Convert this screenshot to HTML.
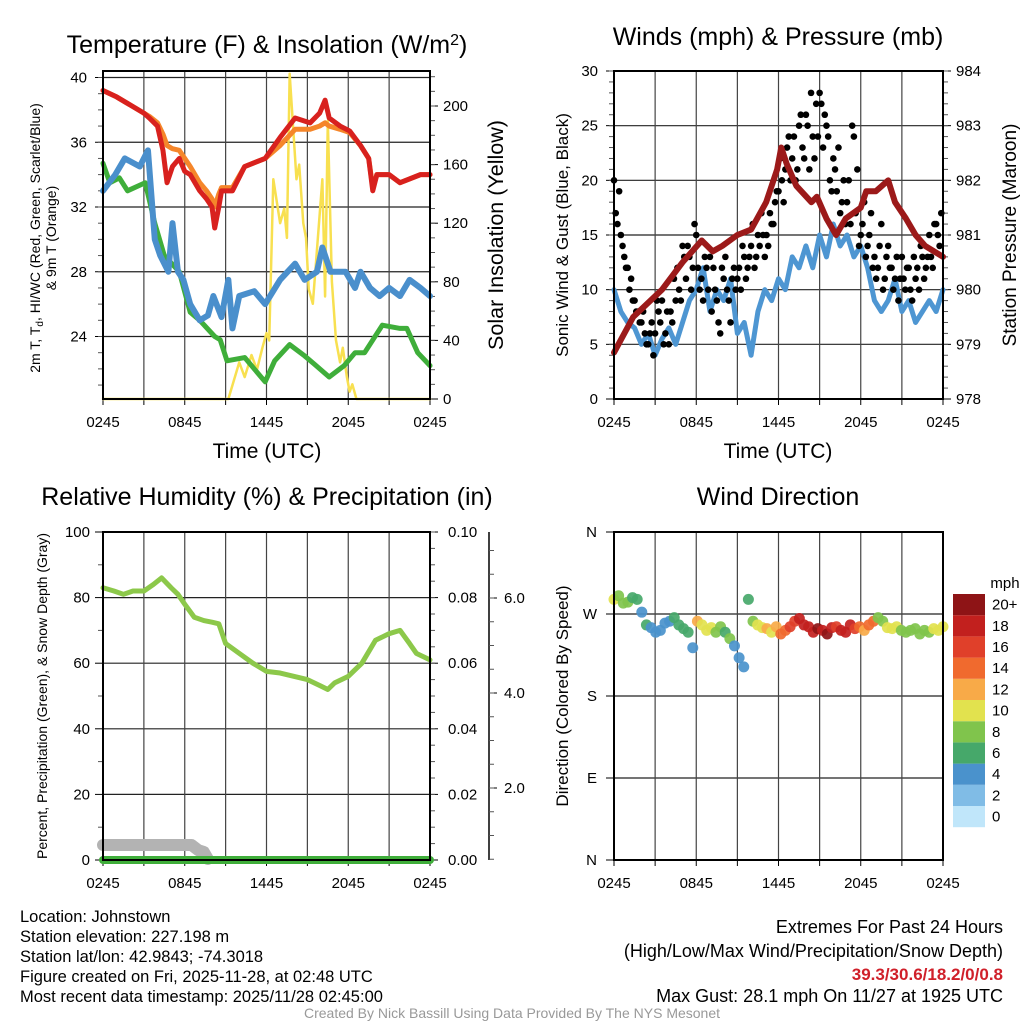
<!DOCTYPE html>
<html><head><meta charset="utf-8">
<style>
html,body{margin:0;padding:0;background:#fff;}
svg{display:block;font-family:"Liberation Sans",sans-serif;}
</style></head>
<body>
<svg id="chart" width="1024" height="1024" viewBox="0 0 1024 1024" xmlns="http://www.w3.org/2000/svg">
<rect width="1024" height="1024" fill="#fff"/>
<g id="p1"></g>
<g id="p2"></g>
<g id="p3"></g>
<g id="p4"></g>
<g font-size="16.5" fill="#000">
<text x="20" y="922">Location: Johnstown</text>
<text x="20" y="942">Station elevation: 227.198 m</text>
<text x="20" y="962">Station lat/lon: 42.9843; -74.3018</text>
<text x="20" y="982">Figure created on Fri, 2025-11-28, at 02:48 UTC</text>
<text x="20" y="1002">Most recent data timestamp: 2025/11/28 02:45:00</text>
</g>
<g font-size="18" text-anchor="end">
<text x="1003" y="933">Extremes For Past 24 Hours</text>
<text x="1003" y="957">(High/Low/Max Wind/Precipitation/Snow Depth)</text>
<text x="1003" y="980" fill="#d0202a" font-weight="bold" font-size="17">39.3/30.6/18.2/0/0.8</text>
<text x="1003" y="1002">Max Gust: 28.1 mph On 11/27 at 1925 UTC</text>
</g>
<text x="512" y="1018" text-anchor="middle" font-size="14" fill="#999">Created By Nick Bassill Using Data Provided By The NYS Mesonet</text>
</svg>
<script>
// ---- Temperature panel data ----
const tT=[0,1,2,3,3.4,4,4.4,4.7,5.1,5.6,6,6.4,7.1,7.6,8,8.2,8.5,8.7,9.5,10.4,11.9,13,14.1,15.2,15.9,16.3,16.6,17.4,18.1,18.9,19.5,19.8,20.1,21,21.8,23.3,24];
const tempRed=[39.2,38.8,38.3,37.8,37.5,37,35.5,33.5,34.5,35,34.2,34,33,32.5,32,30.7,32,33,33,34.5,35,36.3,37.5,37.2,37.8,38.6,37.5,37,36.7,35.8,35,33,34,34,33.5,34,34];
const temp9mOrange=[39.2,38.8,38.3,37.8,37.6,37.2,36.5,35.8,35.6,35.5,35,34.5,33.5,33,32.5,32,32.8,33.2,33.2,34.5,35,35.8,36.8,36.8,37,37.2,37,36.8,36.6,35.8,35,33.2,34,34,33.5,34,34];
const tD=[0,0.9,1.6,2.7,3.3,3.8,4.2,4.8,5.1,5.5,5.9,6.4,7.1,7.7,8.1,8.7,9.2,9.5,10,11.1,11.9,13,14.1,14.8,15.7,16.1,16.7,17.8,18.5,18.9,19.6,20.3,21,21.8,22.5,23.3,24];
const dewBlue=[33,34,35,34.5,35.5,30,29,28,31,28,27.5,26,25,25.3,26.5,25.2,27.5,24.5,26.5,26.8,26,27.5,28.5,27.5,28,29.5,28,28,27,28,27,26.5,27,26.5,27.5,27,26.5];
const tG=[0,0.5,1.2,1.8,3.1,3.8,4.5,5.6,6.4,7.1,8.2,8.6,9.1,10.4,11.9,12.6,13.7,14.8,15.5,16.6,17.7,18.5,19.2,20.5,21.8,22.3,23.1,24];
const hiwcGreen=[34.7,33.5,33.8,33,33.5,31,29,28,25.5,25,24,23.8,22.5,22.7,21.2,22.5,23.5,22.8,22.3,21.5,22.2,23,23,24.7,24.5,24.5,23,22.2];
const tS=[0,9.2,10,10.4,10.9,11.3,11.7,12,12.2,12.5,13,13.3,13.5,13.7,14.2,14.4,14.7,14.9,15.1,15.4,16.1,16.3,16.5,16.8,17.1,17.4,17.6,17.9,18.1,18.3,18.6,24];
const solar=[0,0,25,15,30,20,35,45,40,150,120,130,110,222,150,160,120,110,75,65,150,70,190,80,40,25,35,15,5,10,0,0];
// ---- Wind panel data ----
const tW=[0,0.5,1,1.5,2,2.5,3,3.5,4,4.5,5,5.5,6,6.5,7,7.5,8,8.5,9,9.5,10,10.5,11,11.5,12,12.5,13,13.5,14,14.5,15,15.5,16,16.5,17,17.5,18,18.5,19,19.5,20,20.5,21,21.5,22,22.5,23,23.5,24];
const windSpeed=[10,8,7,6.5,5,6,4,5.5,6.5,5,7,9,10,12,8,10,9,11,6,7,4,8,10,9,11,10,13,12,14,12,15,13,16,14,15,13,14,12,9,8,9,11,8,9,7,8,9,8,10];
const gusts=[20,16,15,13,12,11,9,8,7,6,5,7,6,8,9,6,5,7,9,10,14,11,13,12,15,10,9,12,13,12,9,6,11,10,7,12,11,10,13,12,14,12,15,17,13,14,16,18,19,20,21,24,22,20,25,23,26,21,24,27,28,23,25,20,22,19,17,20,18,16,24,21,15,18,14,17,13,12,16,11,14,12,11,9,13,10,12,9,11,10,13,12,15,12,16,14];
const gustsB=[17,19,14,12,10,9,8,7,8,5,6,4,9,7,5,8,8,11,12,9,13,14,10,16,12,11,13,10,8,10,7,12,13,9,11,10,12,14,11,13,16,13,14,15,15,17,16,19,22,18,23,20,24,21,26,22,25,28,22,24,27,26,24,19,21,23,18,16,20,25,17,14,16,13,15,12,11,14,10,13,12,10,13,11,11,12,10,13,12,14,11,13,13,16,15,17];
const tP=[0,1.4,3.5,5,6.4,7.2,7.9,9,10,11.1,11.9,12.2,12.6,13.3,14.4,14.8,15.5,16.2,16.9,18,18.4,19.1,20,20.5,21.3,22,22.7,24];
const pressure=[978.85,979.5,980.0,980.5,980.9,980.7,980.8,981,981.1,981.6,982.2,982.6,982.3,981.9,981.6,981.7,981.3,981.0,981.3,981.5,981.8,981.8,982.0,981.6,981.3,981.0,980.8,980.6];
// ---- RH panel data ----
const tR=[0,0.8,1.5,2.2,3,3.7,4.3,5,5.5,6,6.7,7.4,8,8.5,9,10,11,12,13,14,15,16,16.5,17,18,19,20,21,21.8,22.5,23,24];
const rh=[83,82,81,82,82,84,86,83,81,78,74,73,72.5,72,66,63,60,57.5,57,56,55,53,52,54,56,60,67,69,70,66,63,61];
const tSnow=[0,2,4,5.5,6,6.5,7,7.4,7.7];
const snowDepth=[0.8,0.8,0.8,0.8,0.8,0.8,0.5,0.4,0];
const tPrecip=[0,24];
const precip=[0,0];
// ---- Wind direction data ----
const windDir=[286,290,282,283,288,286,272,258,255,250,252,260,262,266,258,254,250,233,262,258,252,255,250,256,250,243,235,222,212,286,262,258,255,254,250,256,248,252,256,262,265,258,256,250,254,252,248,255,256,252,250,258,254,256,252,258,262,266,262,255,254,256,252,250,252,254,248,252,250,254,252,256];
const dirSpeed=[10,8,7,7,6,6,4,5,4,4,3,4,4,6,5,6,6,4,12,10,9,10,8,7,6,7,4,4,4,6,8,9,10,11,10,12,14,13,15,16,17,18,18,17,19,18,19,17,16,18,17,18,16,14,12,13,14,8,7,10,10,9,8,8,8,7,7,8,8,9,10,10];
const speedBins=["0","2","4","6","8","10","12","14","16","18","20+"];
const speedColors=["#c0e6fa","#80bce6","#4a92cc","#46a86a","#80c44c","#e2e24e","#f8aa48","#f06a2e","#e0402a","#c2201e","#8e1416"];
const xTickLabels=["0245","0845","1445","2045","0245"];

const NS="http://www.w3.org/2000/svg";
function el(parent,tag,attrs,txt){const e=document.createElementNS(NS,tag);for(const k in attrs)e.setAttribute(k,attrs[k]);if(txt!==undefined)e.textContent=txt;parent.appendChild(e);return e;}
function lin(d0,d1,r0,r1){return v=>r0+(v-d0)*(r1-r0)/(d1-d0);}
const TOP=71,BOT=399,TOP2=532,BOT2=860;

function frame(g,L,R,T,B,xs){
  for(let h=3;h<24;h+=3){const l=el(g,'line',{x1:xs(h),x2:xs(h),y1:T,y2:B,stroke:'#444','stroke-width':1.2});
    }
  for(let h=0;h<=24;h+=3){const l=el(g,'line',{x1:xs(h),x2:xs(h),y1:B,y2:B+6,stroke:'#000','stroke-width':1});
    }
  xTickLabels.forEach((s,i)=>{const t=el(g,'text',{x:xs(i*6),y:B+28,'text-anchor':'middle','font-size':15},s);
    });
}
function hgrid(g,L,R,ys,vals){vals.forEach(v=>{const l=el(g,'line',{x1:L,x2:R,y1:ys(v),y2:ys(v),stroke:'#222','stroke-width':1.2});
  });}
function yAxis(g,x,dir,ys,majors,labels,minors,lx,anchor){
  majors.forEach((v,i)=>{const l=el(g,'line',{x1:x,x2:x+dir*8,y1:ys(v),y2:ys(v),stroke:'#000','stroke-width':1});
    
    const t=el(g,'text',{x:lx,y:ys(v)+5,'text-anchor':anchor,'font-size':15},labels[i]);
    });
  minors.forEach(v=>{const l=el(g,'line',{x1:x,x2:x+dir*5,y1:ys(v),y2:ys(v),stroke:'#555','stroke-width':1});
    });
}
function border(g,L,R,T,B){const r=el(g,'rect',{x:L,y:T,width:R-L,height:B-T,fill:'none',stroke:'#000','stroke-width':2});
  }
function line(g,ts,vs,xs,ys,color,w,name){const p=el(g,'polyline',{points:ts.map((t,i)=>xs(t)+','+ys(vs[i])).join(' '),fill:'none',stroke:color,'stroke-width':w,'stroke-linejoin':'round','stroke-linecap':'round'});
  return p;}
function title(g,x,y,s,size){const t=el(g,'text',{x:x,y:y,'text-anchor':'middle','font-size':size||25},s);
  return t;}
function vtitle(g,x,y,s,size,name){const t=el(g,'text',{x:x,y:y,'text-anchor':'middle','font-size':size,transform:`rotate(-90 ${x} ${y})`},s);
  return t;}
function rng(a,b,s){const r=[];for(let v=a;v<=b+1e-9;v+=s)r.push(+v.toFixed(4));return r;}

// ===== Panel 1 =====
(function(){
  const g=document.getElementById('p1');const L=103,R=430;
  const xs=lin(0,24,L,R), ys=lin(24,40,336.5,77.5), ysR=lin(0,200,399,106);
  hgrid(g,L,R,ys,[24,28,32,36,40]);
  frame(g,L,R,TOP,BOT,xs);
  yAxis(g,L,-1,ys,[24,28,32,36,40],['24','28','32','36','40'],rng(21,40,1),87,'end');
  yAxis(g,R,1,ysR,[0,40,80,120,160,200],['0','40','80','120','160','200'],rng(10,220,10),443,'start');
  line(g,tS,solar,xs,ysR,'#f8e050',2.5,'insolation-line');
  line(g,tG,hiwcGreen,xs,ys,'#3fae3a',5,'heat-index-windchill-line');
  line(g,tD,dewBlue,xs,ys,'#4a8fcc',6,'dewpoint-line');
  line(g,tT,temp9mOrange,xs,ys,'#f5862a',5,'temperature-9m-line');
  line(g,tT,tempRed,xs,ys,'#d8211e',5,'temperature-2m-line');
  border(g,L,R,TOP,BOT);
  const t=title(g,267,53,'Temperature (F) & Insolation (W/m');
  const sup=el(t,'tspan',{'baseline-shift':'super','font-size':16},'2');
  el(t,'tspan',{},')');
  const xt=el(g,'text',{x:267,y:458,'text-anchor':'middle','font-size':21},'Time (UTC)');
  const yl=el(g,'text',{'font-size':14,'text-anchor':'middle',transform:'translate(40,238) rotate(-90)'});
  
  el(yl,'tspan',{x:0,y:0},'2m T, T');el(yl,'tspan',{'font-size':10,dy:3},'d');el(yl,'tspan',{dy:-3},', HI/WC (Red, Green, Scarlet/Blue)');
  el(yl,'tspan',{x:0,y:16},'& 9m T (Orange)');
  vtitle(g,503,235,'Solar Insolation (Yellow)',21.5,'y2-axis-title');
})();

// ===== Panel 2 =====
(function(){
  const g=document.getElementById('p2');const L=614,R=943;
  const xs=lin(0,24,L,R), ys=lin(0,30,399,71), ysR=lin(978,984,399,71);
  hgrid(g,L,R,ys,[5,10,15,20,25]);
  frame(g,L,R,TOP,BOT,xs);
  yAxis(g,L,-1,ys,[0,5,10,15,20,25,30],['0','5','10','15','20','25','30'],rng(1,30,1),598,'end');
  yAxis(g,R,1,ysR,[978,979,980,981,982,983,984],['978','979','980','981','982','983','984'],rng(978.2,984,0.2),956,'start');
  line(g,tW,windSpeed,xs,ys,'#4e96d2',5,'sonic-wind-line');
  gusts.forEach((v,i)=>{const c=el(g,'circle',{cx:xs(i*0.25),cy:ys(v),r:3.3,fill:'#000'});
    });
  gustsB.forEach((v,i)=>{const c=el(g,'circle',{cx:xs((i+0.5)*0.25),cy:ys(v),r:3.3,fill:'#000'});
    });
  line(g,tP,pressure,xs,ysR,'#9c1a1a',6,'pressure-line');
  border(g,L,R,TOP,BOT);
  title(g,778,45,'Winds (mph) & Pressure (mb)');
  const xt=el(g,'text',{x:778,y:458,'text-anchor':'middle','font-size':21},'Time (UTC)');
  vtitle(g,568,235,'Sonic Wind & Gust (Blue, Black)',17,'y-axis-title');
  vtitle(g,1016,235,'Station Pressure (Maroon)',19,'y2-axis-title');
})();

// ===== Panel 3 =====
(function(){
  const g=document.getElementById('p3');const L=103,R=430;
  const xs=lin(0,24,L,R), ys=lin(0,100,BOT2,TOP2), ysR=lin(0,0.1,BOT2,TOP2), ysS=lin(0,2,883,788), ysSnow=lin(0,0.8,859,845);
  hgrid(g,L,R,ys,[20,40,60,80]);
  frame(g,L,R,TOP2,BOT2,xs);
  yAxis(g,L,-1,ys,[0,20,40,60,80,100],['0','20','40','60','80','100'],rng(10,90,20),90,'end');
  yAxis(g,R,1,ysR,[0,0.02,0.04,0.06,0.08,0.1],['0.00','0.02','0.04','0.06','0.08','0.10'],rng(0.005,0.1,0.005),448,'start');
  const ax=el(g,'line',{x1:489,x2:489,y1:TOP2,y2:BOT2,stroke:'#000','stroke-width':1.5});
  yAxis(g,489,1,ysS,[2,4,6],['2.0','4.0','6.0'],rng(0.5,7.5,0.5).filter(v=>ysS(v)>TOP2&&ysS(v)<BOT2),504,'start');
  line(g,tSnow,snowDepth,xs,ysSnow,'#b3b3b3',12,'snow-depth-line');
  line(g,tPrecip,precip,xs,ysR,'#3fae3a',8,'precipitation-line');
  line(g,tR,rh,xs,ys,'#8cc84a',5,'relative-humidity-line');
  border(g,L,R,TOP2,BOT2);
  title(g,267,505,'Relative Humidity (%) & Precipitation (in)');
  vtitle(g,47,696,'Percent, Precipitation (Green), & Snow Depth (Gray)',14,'y-axis-title');
})();

// ===== Panel 4 =====
(function(){
  const g=document.getElementById('p4');const L=614,R=943;
  const xs=lin(0,24,L,R), ys=lin(0,360,BOT2,TOP2);
  hgrid(g,L,R,ys,[90,180,270]);
  frame(g,L,R,TOP2,BOT2,xs);
  yAxis(g,L,-1,ys,[0,90,180,270,360],['N','E','S','W','N'],[],597,'end');
  windDir.forEach((d,i)=>{const bin=Math.min(10,Math.round(dirSpeed[i]/2));
    const c=el(g,'circle',{cx:xs(i*24/71),cy:ys(d),r:5.5,fill:speedColors[bin],'fill-opacity':0.92});
    });
  border(g,L,R,TOP2,BOT2);
  title(g,778,505,'Wind Direction');
  vtitle(g,568,696,'Direction (Colored By Speed)',17,'y-axis-title');
  const cb=el(g,'g',{});
  const mt=el(cb,'text',{x:1005,y:588,'text-anchor':'middle','font-size':15},'mph');
  const h=21.2,top=594;
  speedBins.forEach((s,i)=>{const y=top+(10-i)*h;
    const r=el(cb,'rect',{x:953,y:y,width:32,height:h,fill:speedColors[i]});
    const t=el(cb,'text',{x:992,y:y+h/2+5,'font-size':15},s);});
})();
</script>
</body></html>
